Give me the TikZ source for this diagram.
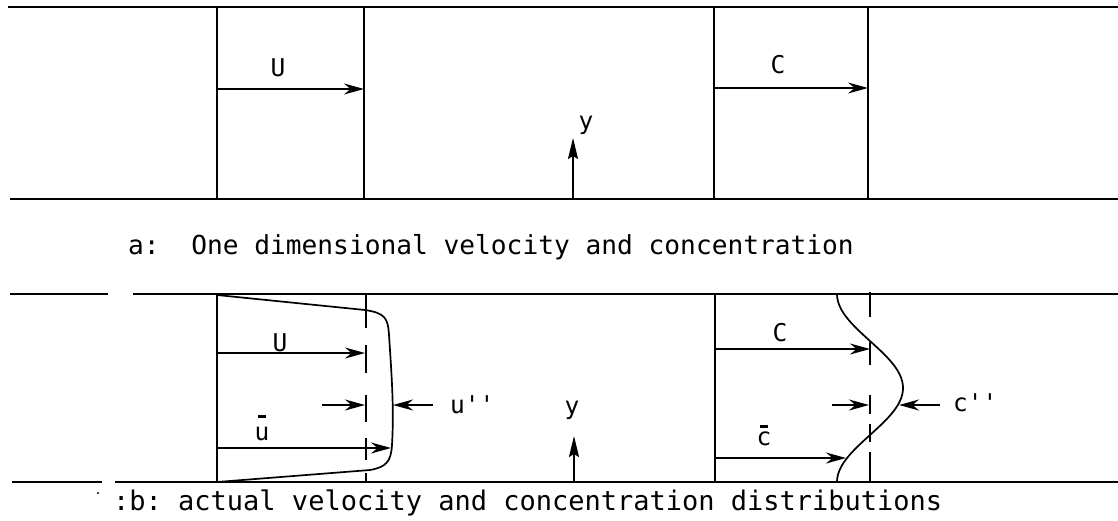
\documentclass[tikz,border=0pt]{standalone}
\usepackage{fontspec}
\setmonofont{DejaVu Sans Mono}
\usetikzlibrary{arrows.meta}
\newcommand\barlet[2]{{\ooalign{\hfil\raisebox{#2}{\rule{7.5pt}{2.8pt}}\hfil\cr #1}}}
\tikzset{
  wall/.style={line width=2pt},
  guide/.style={line width=1.8pt},
  prof/.style={line width=1.7pt},
  vel/.style={line width=1.7pt,-{Stealth[length=20pt,width=11pt,inset=6.5pt]}},
  yaxis/.style={line width=1.9pt,-{Stealth[length=21pt,width=10pt,inset=3pt]}},
  lab/.style={font=\fontsize{24.5}{26}\selectfont\ttfamily, inner sep=0pt},
  capA/.style={font=\fontsize{26.2}{28}\selectfont\ttfamily, inner sep=0pt},
  capB/.style={font=\fontsize{27}{29}\selectfont\ttfamily, inner sep=0pt},
}
\begin{document}
\begin{tikzpicture}[x=1pt,y=-1pt]
\useasboundingbox (0,0) rectangle (1118,520);
% ---------------- panel a ----------------
\draw[wall] (8,7) -- (1118,7);
\draw[wall] (10,199) -- (1118,199);
\draw[wall] (217,7) -- (217,199);
\draw[wall] (364,7) -- (364,199);
\draw[wall] (714,7) -- (714,199);
\draw[wall] (868,7) -- (868,199);
\coordinate (aU0) at (217,89);  \coordinate (aU1) at (364,89);
\coordinate (aC0) at (714,88);  \coordinate (aC1) at (868,88);
\draw[vel] (aU0) -- (aU1);
\draw[vel] (aC0) -- (aC1);
\node[lab] (laU) at (278,68) {U};
\node[lab] (laC) at (778,65) {C};
\coordinate (ay0) at (573,199); \coordinate (ay1) at (573,138);
\draw[yaxis] (ay0) -- (ay1);
\node[lab] (lay) at (586,125) {y};
\node[capA, anchor=base west] (capa) at (128,254) {a:\ \ One dimensional velocity and concentration};
% ---------------- panel b ----------------
\draw[wall] (10,294) -- (108,294) (133,294) -- (1118,294);
\draw[wall] (12,482) -- (102,482) (115,482) -- (1118,482);
\draw[wall] (217,294) -- (217,482);
\draw[wall] (715,294) -- (715,482);
% mean-value lines (interrupted)
\draw[guide] (366,294) -- (366,328) (366,345) -- (366,373) (366,395) -- (366,422)
             (366,438) -- (366,460) (366,473) -- (366,482);
\draw[guide] (870,292) -- (870,317) (870,342) -- (870,365) (870,395) -- (870,414)
             (870,424) -- (870,442) (870,452) -- (870,482);
% velocity profile
\draw[prof] (217,295) -- (365,310) .. controls (385,313) and (388,318) .. (389,335)
  .. controls (392,380) and (394,410) .. (392,445)
  .. controls (391,462) and (386,467) .. (370,470) -- (217,482);
% concentration profile
\draw[prof] plot[domain=0:188, samples=90, smooth] ({870-33*cos(1.91489*\x)}, {294+\x});
% arrows, velocity
\coordinate (bU0) at (217,353); \coordinate (bU1) at (365,353);
\coordinate (bm0) at (322,405); \coordinate (bm1) at (365,405);
\coordinate (bp0) at (433,405); \coordinate (bp1) at (393,405);
\coordinate (bu0) at (217,448); \coordinate (bu1) at (391,448);
\draw[vel] (bU0) -- (bU1);
\draw[vel] (bm0) -- (bm1);
\draw[vel] (bp0) -- (bp1);
\draw[vel] (bu0) -- (bu1);
\node[lab] (lbU) at (280,343) {U};
\node[lab, anchor=base] (lbu) at (262,440) {\barlet{u}{22pt}};
\node[lab, anchor=west] (lbp) at (450,405) {u\char"27\char"27};
% arrows, concentration
\coordinate (bC0) at (715,349); \coordinate (bC1) at (870,349);
\coordinate (bn0) at (832,405); \coordinate (bn1) at (869,405);
\coordinate (bq0) at (940,405); \coordinate (bq1) at (899,405);
\coordinate (bc0) at (715,458); \coordinate (bc1) at (846,458);
\draw[vel] (bC0) -- (bC1);
\draw[vel] (bn0) -- (bn1);
\draw[vel] (bq0) -- (bq1);
\draw[vel] (bc0) -- (bc1);
\node[lab] (lbC) at (780,333) {C};
\node[lab, anchor=base] (lbc) at (764,445) {\barlet{c}{17pt}};
\node[lab, anchor=west] (lbq) at (953,403) {c\char"27\char"27};
% y axis
\coordinate (by0) at (574,482); \coordinate (by1) at (574,436);
\draw[yaxis] (by0) -- (by1);
\node[lab] (lby) at (572,410) {y};
% caption b
\fill (98,493) circle (1.2pt);
\node[capB, anchor=base west] (capb) at (113,510) {:b: actual velocity and concentration distributions};
\end{tikzpicture}
\end{document}
